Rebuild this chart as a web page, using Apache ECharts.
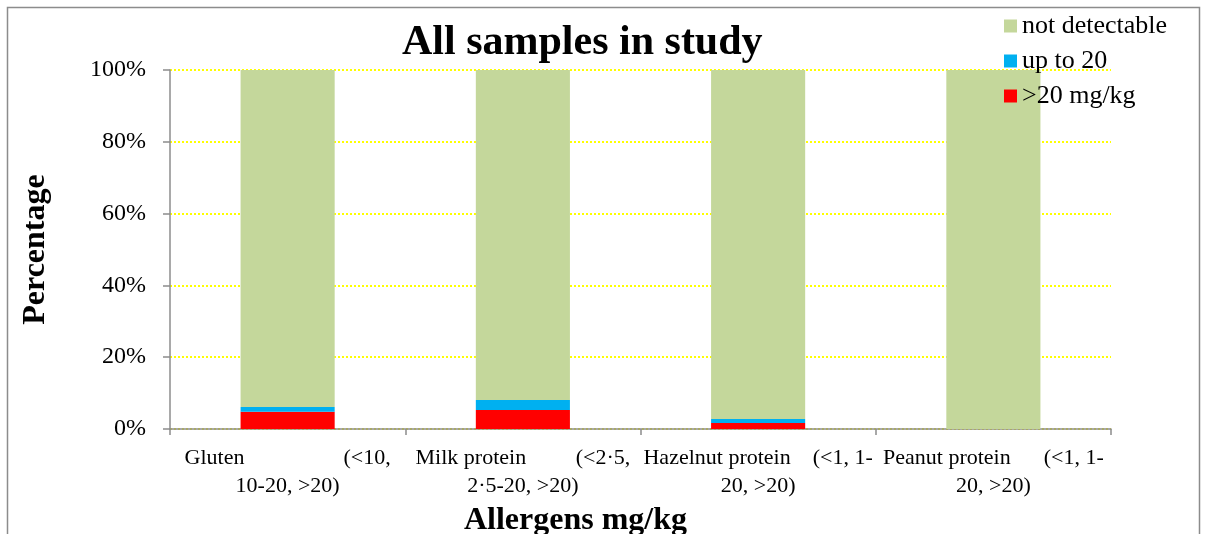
<!DOCTYPE html>
<html>
<head>
<meta charset="utf-8">
<style>
  html, body { margin: 0; padding: 0; background: #ffffff; }
  #chart { width: 1207px; height: 534px; }
</style>
<script src="https://cdn.jsdelivr.net/npm/echarts@6/dist/echarts.min.js"></script>
</head>
<body>
<div id="chart"></div>
<script>
// Allergen categories with their concentration bands (mg/kg)
const categories = [
  'Gluten                  (<10,\n10-20, >20)',
  'Milk protein         (<2·5,\n2·5-20, >20)',
  'Hazelnut protein    (<1, 1-\n20, >20)',
  'Peanut protein      (<1, 1-\n20, >20)'
];

// Share of samples (%) in each detection band
const over20 = [4.8, 5.3, 1.7, 0];
const upTo20 = [1.3, 2.8, 1.1, 0];
const notDetectable = [93.9, 91.9, 97.2, 100];

const yTicks = [0, 20, 40, 60, 80, 100];

const serif = '"Liberation Serif", "Times New Roman", serif';

const chart = echarts.init(document.getElementById('chart'));

chart.setOption({
  animation: false,
  backgroundColor: '#ffffff',
  textStyle: { fontFamily: serif, color: '#000' },
  graphic: [{
    type: 'rect',
    shape: { x: 7.5, y: 7.5, width: 1192, height: 560 },
    style: { fill: 'none', stroke: '#8c8c8c', lineWidth: 1.5 },
    silent: true
  }],
  title: {
    text: 'All samples in study',
    left: 397,
    top: 17,
    textStyle: { fontFamily: serif, fontSize: 42, fontWeight: 'bold', color: '#000' }
  },
  legend: {
    orient: 'vertical',
    left: 999,
    top: 8,
    itemWidth: 13,
    itemHeight: 13,
    itemGap: 9,
    icon: 'rect',
    data: ['not detectable', 'up to 20', '>20 mg/kg'],
    textStyle: { fontFamily: serif, fontSize: 26, color: '#000' }
  },
  grid: { left: 170, right: 96, top: 70, bottom: 105, outerBoundsMode: 'none', containLabel: false },
  xAxis: {
    type: 'category',
    data: categories,
    name: 'Allergens mg/kg',
    nameLocation: 'middle',
    nameGap: 58,
    nameTextStyle: {
      fontFamily: serif, fontSize: 32, fontWeight: 'bold', color: '#000',
      padding: [0, 130, 0, 0]
    },
    axisLine: { lineStyle: { color: '#8c8c8c', width: 1.5 } },
    axisTick: { show: true, length: 6, lineStyle: { color: '#8c8c8c', width: 1.5 } },
    axisLabel: {
      interval: 0,
      margin: 15,
      fontFamily: serif,
      fontSize: 22,
      lineHeight: 28,
      color: '#000'
    }
  },
  yAxis: {
    type: 'value',
    min: yTicks[0],
    max: yTicks[yTicks.length - 1],
    interval: 20,
    name: 'Percentage',
    nameLocation: 'middle',
    nameGap: 118,
    nameTextStyle: { fontFamily: serif, fontSize: 32, fontWeight: 'bold', color: '#000' },
    axisLine: { show: true, lineStyle: { color: '#8c8c8c', width: 1.5 } },
    axisTick: { show: true, length: 7, lineStyle: { color: '#8c8c8c', width: 1.5 } },
    axisLabel: {
      margin: 24,
      fontFamily: serif,
      fontSize: 24,
      color: '#000',
      formatter: v => v + '%'
    },
    splitLine: { show: true, lineStyle: { color: '#ffff00', type: 'dotted', width: 2 } }
  },
  series: [
    {
      name: '>20 mg/kg',
      type: 'bar',
      stack: 'total',
      barWidth: '40%',
      data: over20,
      itemStyle: { color: '#ff0000' }
    },
    {
      name: 'up to 20',
      type: 'bar',
      stack: 'total',
      data: upTo20,
      itemStyle: { color: '#00b0f0' }
    },
    {
      name: 'not detectable',
      type: 'bar',
      stack: 'total',
      data: notDetectable,
      itemStyle: { color: '#c4d79b' }
    }
  ]
});
</script>
</body>
</html>
